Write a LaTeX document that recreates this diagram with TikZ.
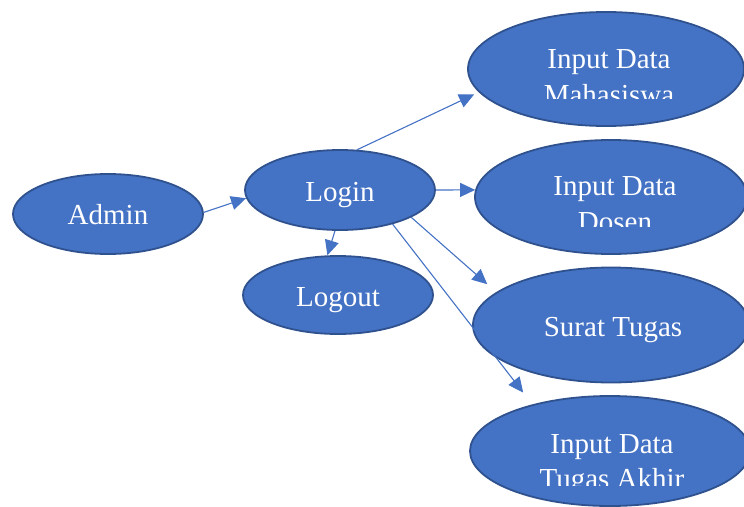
\documentclass[tikz,border=0pt]{standalone}
\usepackage{fontspec}
\setmainfont{Liberation Serif}
\usetikzlibrary{arrows.meta,shapes.geometric}
\definecolor{fillblue}{HTML}{4472C4}
\definecolor{edgeblue}{HTML}{2F528F}
\tikzset{
  uc/.style={ellipse, draw=edgeblue, fill=fillblue, line width=1.8pt, inner sep=0pt},
  lbl/.style={text=white, font=\fontsize{29}{32}\selectfont, inner sep=0pt, anchor=base},
  conn/.style={draw=fillblue, line width=1.1pt, -{Triangle[length=15pt,width=14pt]}},
}
\begin{document}
\begin{tikzpicture}[x=1pt,y=-1pt]
\useasboundingbox (0,0) rectangle (744,506);
% use cases
\node[uc, minimum width=190pt, minimum height=80pt] (admin) at (108,214) {};
\node[uc, minimum width=190pt, minimum height=80pt] (login) at (340,190) {};
\node[uc, minimum width=190pt, minimum height=78pt] (logout) at (338,295) {};
\node[uc, minimum width=276pt, minimum height=114pt] (maha) at (606,69) {};
\node[uc, minimum width=272pt, minimum height=114pt] (dosen) at (611,197) {};
\node[uc, minimum width=276pt, minimum height=115pt] (surat) at (611,325) {};
\node[uc, minimum width=280pt, minimum height=110pt] (ta) at (610,451) {};
% labels
\node[lbl] (tadmin) at (108,224) {Admin};
\node[lbl] (tlogin) at (340,201) {Login};
\node[lbl] (tlogout) at (338,306) {Logout};
\node[lbl] (tsurat) at (613,336) {Surat Tugas};
\node[lbl] (tmaha1) at (609,68) {Input Data};
\begin{scope}
  \clip (460,0) rectangle (744,98);
  \node[lbl] (tmaha2) at (609,104) {Mahasiswa};
\end{scope}
\node[lbl] (tdosen1) at (615,195) {Input Data};
\begin{scope}
  \clip (460,140) rectangle (744,226);
  \node[lbl] (tdosen2) at (615,231) {Dosen};
\end{scope}
\node[lbl] (tta1) at (612,453) {Input Data};
\begin{scope}
  \clip (460,400) rectangle (744,485);
  \node[lbl] (tta2) at (612,488) {Tugas Akhir};
\end{scope}
% connectors
\draw[conn] (admin.1) -- (login.185.5);
\draw[conn] (login.67.5) -- ([shift={(-6pt,-1pt)}]maha.191.8);
\draw[conn] (login.0) -- (dosen.177.4);
\draw[conn] (login.263) -- (logout.105);
\draw[conn, shorten >=12pt] (login.-21.3) -- (surat.164);
\draw[conn, shorten >=15pt] (login.-33.7) -- (ta.149.3);
\end{tikzpicture}
\end{document}
